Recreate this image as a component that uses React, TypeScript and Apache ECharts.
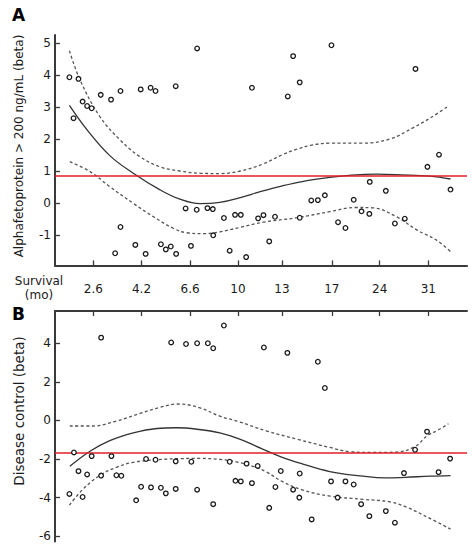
import React, { useEffect, useRef } from "react";
import * as echarts from "echarts";

// Survival axis (rank-based positions, 0-100) and its tick labels (months)
const survivalTickPos = [9.3, 21.0, 32.8, 44.4, 55.1, 67.2, 78.8, 90.6];
const survivalTickLabels = ["2.6", "4.2", "6.6", "10", "13", "17", "24", "31"];

// Panel A: Alphafetoprotein > 200 ng/mL (beta)
const afpX = [3.5, 5.7, 4.5, 6.7, 7.8, 8.9, 11.1, 13.6, 15.9, 20.8, 23.2, 24.4, 29.3, 34.5, 15.9, 14.6, 19.5, 22.0, 25.7, 26.9, 28.1, 29.4, 33.0, 31.7, 34.4, 37.0, 38.3, 38.4, 41.0, 43.7, 42.4, 45.1, 46.4, 47.8, 49.3, 50.6, 52.0, 53.4, 56.5, 57.8, 59.4, 59.4, 62.2, 63.8, 65.5, 67.1, 68.7, 70.5, 72.5, 74.4, 76.3, 76.4, 80.3, 82.5, 84.9, 87.5, 90.4, 93.2, 96.0];
const afpY = [3.93, 3.88, 2.65, 3.17, 3.03, 2.96, 3.38, 3.23, 3.5, 3.55, 3.6, 3.5, 3.65, 4.83, -0.75, -1.57, -1.31, -1.59, -1.29, -1.45, -1.36, -1.59, -1.34, -0.17, -0.21, -0.16, -0.19, -1.01, -0.47, -0.37, -1.49, -0.37, -1.69, 3.6, -0.48, -0.38, -1.2, -0.43, 3.33, 4.59, 3.77, -0.46, 0.08, 0.09, 0.24, 4.93, -0.6, -0.78, 0.1, -0.26, -0.34, 0.66, 0.38, -0.64, -0.49, 4.19, 1.13, 1.51, 0.42];
const afpFit = [[3.5, 3.05], [7.7, 2.3], [13.3, 1.48], [19.0, 0.93], [25.5, 0.41], [30.3, 0.12], [35.2, -0.02], [40.0, 0.02], [45.0, 0.17], [50.0, 0.36], [55.0, 0.53], [60.0, 0.67], [66.7, 0.8], [72.0, 0.87], [78.0, 0.9], [84.0, 0.88], [91.0, 0.84], [96.0, 0.75]];
const afpUpper = [[3.5, 4.76], [6.1, 3.84], [10.9, 2.7], [15.8, 1.97], [20.6, 1.45], [25.5, 1.13], [30.3, 1.0], [35.2, 0.93], [40.0, 0.92], [45.0, 1.0], [50.5, 1.22], [55.0, 1.5], [58.7, 1.68], [62.0, 1.8], [66.7, 1.87], [74.7, 1.87], [81.3, 2.0], [86.9, 2.35], [91.0, 2.65], [95.5, 3.03]];
const afpLower = [[3.6, 1.29], [8.5, 0.98], [13.3, 0.51], [19.0, -0.01], [23.9, -0.43], [28.7, -0.79], [32.0, -0.93], [36.0, -0.96], [40.0, -0.9], [45.0, -0.76], [50.5, -0.6], [58.7, -0.46], [66.7, -0.27], [73.0, -0.14], [77.0, -0.15], [82.9, -0.43], [87.8, -0.84], [92.6, -1.16], [96.0, -1.52]];
const afpRef = 0.85;
const afpYTicks = [-1, 0, 1, 2, 3, 4, 5];

// Panel B: Disease control (beta)
const dcX = [3.5, 4.6, 5.7, 6.7, 7.8, 8.9, 11.2, 11.2, 13.7, 14.9, 16.1, 19.7, 20.9, 22.1, 23.3, 24.4, 25.7, 26.9, 28.2, 29.3, 29.3, 31.8, 33.1, 34.5, 34.5, 37.1, 38.4, 38.4, 41.0, 42.4, 43.8, 45.1, 46.5, 47.8, 49.2, 50.7, 52.0, 53.5, 54.8, 56.4, 57.8, 59.3, 59.4, 62.3, 63.8, 65.5, 67.0, 68.6, 70.5, 72.5, 74.3, 76.3, 80.3, 82.5, 84.7, 87.4, 90.3, 93.1, 95.9];
const dcY = [-3.81, -1.66, -2.63, -3.97, -2.8, -1.85, 4.29, -2.86, -1.85, -2.84, -2.87, -4.14, -3.44, -2.0, -3.47, -2.04, -3.49, -3.78, 4.04, -2.12, -3.55, 3.96, -2.14, 4.0, -3.59, 4.0, 3.74, -4.34, 4.92, -2.14, -3.13, -3.16, -2.24, -3.25, -2.36, 3.78, -4.53, -3.45, -2.62, 3.5, -3.59, -4.0, -2.75, -5.13, 3.04, 1.68, -3.16, -4.0, -3.16, -3.32, -4.34, -4.96, -4.7, -5.3, -2.73, -1.52, -0.58, -2.68, -1.98];
const dcFit = [[3.6, -2.38], [8.5, -1.6], [13.3, -1.05], [19.0, -0.65], [24.7, -0.42], [29.5, -0.38], [35.0, -0.47], [40.0, -0.65], [45.0, -0.98], [50.0, -1.45], [55.0, -1.9], [60.0, -2.25], [66.7, -2.65], [74.8, -2.89], [80.0, -2.98], [85.0, -2.95], [91.0, -2.89], [96.0, -2.86]];
const dcUpper = [[3.6, -0.29], [9.2, -0.29], [14.9, -0.03], [20.6, 0.36], [25.5, 0.68], [29.9, 0.85], [35.2, 0.65], [40.0, 0.22], [44.4, -0.05], [51.4, -0.55], [58.7, -0.97], [66.7, -1.4], [71.6, -1.62], [77.3, -1.66], [82.9, -1.64], [87.4, -1.35], [90.3, -0.8], [93.0, -0.5], [95.5, -0.17]];
const dcLower = [[3.5, -4.39], [6.9, -3.54], [10.9, -2.85], [14.9, -2.43], [19.0, -2.17], [24.7, -2.04], [30.3, -1.98], [35.2, -1.97], [40.0, -2.02], [44.0, -2.15], [48.0, -2.38], [51.4, -2.68], [55.0, -3.15], [60.0, -3.6], [66.7, -3.92], [74.8, -4.09], [81.3, -4.22], [85.4, -4.5], [91.0, -5.08], [96.0, -5.63]];
const dcRef = -1.65;
const dcYTicks = [-6, -4, -2, 0, 2, 4];

const FONT = "DejaVu Sans";
const AXIS_COLOR = "#3a3a3a";
const TEXT_COLOR = "#1a1a1a";

function zip(xs: number[], ys: number[]) {
  return xs.map((x, i) => [x, ys[i]]);
}

function curve(data: number[][], idx: number, dashed: boolean) {
  return {
    type: "line",
    xAxisIndex: idx,
    yAxisIndex: idx,
    data,
    smooth: 0.4,
    symbol: "none",
    silent: true,
    lineStyle: dashed
      ? { color: "#555", width: 1.3, type: [3, 2.5] }
      : { color: "#333", width: 1.3 },
    z: 2,
  };
}

function scatter(data: number[][], idx: number, ref: number) {
  return {
    type: "scatter",
    xAxisIndex: idx,
    yAxisIndex: idx,
    data,
    symbol: "circle",
    symbolSize: 4.6,
    itemStyle: { color: "#fff", borderColor: "#1a1a1a", borderWidth: 1.3, opacity: 1 },
    z: 4,
    markLine: {
      silent: true,
      symbol: "none",
      label: { show: false },
      lineStyle: { color: "#e31e24", width: 1.5, type: "solid" },
      data: [{ yAxis: ref }],
      z: 3,
    },
  };
}

function yAxis(idx: number, min: number, max: number, ticks: number[]) {
  return {
    type: "value",
    gridIndex: idx,
    min,
    max,
    axisLine: { show: true, lineStyle: { color: AXIS_COLOR, width: 2 } },
    axisTick: { show: true, inside: true, length: 5, customValues: ticks, lineStyle: { color: AXIS_COLOR, width: 1.3 } },
    axisLabel: { show: true, customValues: ticks, margin: 4, fontFamily: FONT, fontSize: 12, color: TEXT_COLOR },
    splitLine: { show: false },
  };
}

function labelFor(v: number) {
  const i = survivalTickPos.findIndex((p) => Math.abs(p - v) < 1e-6);
  return i >= 0 ? survivalTickLabels[i] : "";
}

const option = {
  animation: false,
  backgroundColor: "#fff",
  grid: [
    { left: 55, right: 5, top: 35, height: 230.4 },
    { left: 55, right: 5, top: 311, height: 230.6 },
  ],
  xAxis: [
    {
      type: "value",
      gridIndex: 0,
      min: 0,
      max: 100,
      position: "bottom",
      axisLine: { show: true, onZero: false, lineStyle: { color: AXIS_COLOR, width: 2 } },
      axisTick: { show: true, inside: true, length: 5, customValues: survivalTickPos, lineStyle: { color: AXIS_COLOR, width: 1.3 } },
      axisLabel: { show: true, customValues: survivalTickPos, formatter: labelFor, margin: 18, fontFamily: FONT, fontSize: 12, color: TEXT_COLOR },
      splitLine: { show: false },
    },
    {
      type: "value",
      gridIndex: 1,
      min: 0,
      max: 100,
      position: "top",
      axisLine: { show: true, onZero: false, lineStyle: { color: AXIS_COLOR, width: 2 } },
      axisTick: { show: true, inside: true, length: 5, customValues: survivalTickPos, lineStyle: { color: AXIS_COLOR, width: 1.3 } },
      axisLabel: { show: false },
      splitLine: { show: false },
    },
  ],
  yAxis: [yAxis(0, -1.95, 5.25, afpYTicks), yAxis(1, -6.28, 5.67, dcYTicks)],
  series: [
    curve(afpUpper, 0, true),
    curve(afpLower, 0, true),
    curve(afpFit, 0, false),
    scatter(zip(afpX, afpY), 0, afpRef),
    curve(dcUpper, 1, true),
    curve(dcLower, 1, true),
    curve(dcFit, 1, false),
    scatter(zip(dcX, dcY), 1, dcRef),
  ],
  graphic: [
    { type: "text", left: 12, top: 6, style: { text: "A", fontFamily: FONT, fontWeight: "bold", fontSize: 17, fill: "#000" } },
    { type: "text", left: 12, top: 305, style: { text: "B", fontFamily: FONT, fontWeight: "bold", fontSize: 17, fill: "#000" } },
    { type: "text", x: 39, y: 281, style: { text: "Survival", fontFamily: FONT, fontSize: 12, fill: TEXT_COLOR, align: "center", verticalAlign: "middle" } },
    { type: "text", x: 39, y: 295, style: { text: "(mo)", fontFamily: FONT, fontSize: 12, fill: TEXT_COLOR, align: "center", verticalAlign: "middle" } },
    { type: "text", x: 18.5, y: 146, rotation: Math.PI / 2, style: { text: "Alphafetoprotein > 200 ng/mL (beta)", fontFamily: FONT, fontSize: 12, fill: TEXT_COLOR, align: "center", verticalAlign: "middle" } },
    { type: "text", x: 18.5, y: 411, rotation: Math.PI / 2, style: { text: "Disease control (beta)", fontFamily: FONT, fontSize: 13.5, fill: TEXT_COLOR, align: "center", verticalAlign: "middle" } },
  ],
};

export default function App() {
  const ref = useRef<HTMLDivElement>(null);
  useEffect(() => {
    if (!ref.current) return;
    const chart = echarts.init(ref.current, null, { renderer: "svg" });
    chart.setOption(option as any);
    return () => chart.dispose();
  }, []);
  return (
    <div
      ref={ref}
      style={{ position: "fixed", left: 0, top: 0, width: 472, height: 554, background: "#fff" }}
    />
  );
}
